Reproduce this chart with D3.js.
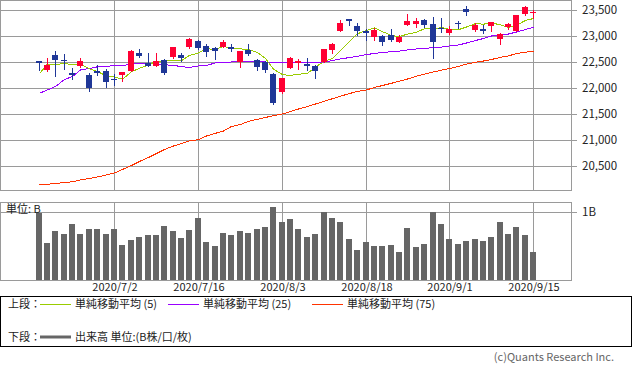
<!DOCTYPE html>
<html lang="ja">
	<head>
		<meta charset="utf-8">
		<title>Candlestick chart with moving averages and volume</title>
		<script type="text/javascript" src="https://cdnjs.cloudflare.com/ajax/libs/d3/7.8.5/d3.min.js"></script>
		<style type="text/css">
			body { margin: 0; background: #fff; }
			svg text { font-family: "Noto Sans CJK JP", "DejaVu Sans", sans-serif; }
		</style>
	</head>
	<body>
		<script type="text/javascript">

			//Trading days shown (2020/6/19 - 2020/9/15)
			var dates = ["6/19","6/22","6/23","6/24","6/25","6/26","6/29","6/30","7/1","7/2",
						 "7/3","7/6","7/7","7/8","7/9","7/10","7/13","7/14","7/15","7/16",
						 "7/17","7/20","7/21","7/22","7/27","7/28","7/29","7/30","7/31","8/3",
						 "8/4","8/5","8/6","8/7","8/11","8/12","8/13","8/14","8/17","8/18",
						 "8/19","8/20","8/21","8/24","8/25","8/26","8/27","8/28","8/31","9/1",
						 "9/2","9/3","9/4","9/7","9/8","9/9","9/10","9/11","9/14","9/15"];

			var open  = [22520,22335,22640,22545,22300,22410,22250,22335,22330,22170,
						 22250,22320,22670,22490,22430,22540,22585,22640,22790,22905,
						 22810,22770,22790,22790,22500,22735,22540,22500,22270,21925,
						 22380,22477,22463,22425,22500,22733,23098,23329,23194,23098,
						 22983,23002,23021,22887,23213,23233,23310,23233,23156,23060,
						 23256,23520,23117,23137,23194,22944,23175,23098,23425,23440];
			var high  = [22525,22575,22710,22655,22390,22580,22300,22445,22370,22265,
						 22310,22735,22745,22670,22670,22560,22790,22675,22960,22925,
						 22850,22790,22925,22850,22716,22850,22560,22520,22290,22195,
						 22600,22560,22580,22445,22752,22867,23310,23330,23252,23137,
						 23156,23021,23137,23021,23425,23348,23329,23367,23348,23194,
						 23290,23580,23252,23214,23280,23060,23252,23406,23580,23500];
			var low   = [22350,22330,22240,22360,22170,22400,21945,22250,22030,22065,
						 22140,22320,22600,22430,22430,22270,22585,22520,22770,22750,
						 22615,22560,22790,22710,22405,22630,22350,22310,21690,21910,
						 22380,22367,22348,22195,22500,22675,23098,23214,23021,22925,
						 22925,22829,22906,22887,23213,23175,23175,22579,23079,23040,
						 23156,23406,23098,23060,23098,22848,23137,23098,23406,23348];
			var close = [22479,22437,22549,22534,22260,22512,21995,22288,22122,22146,
						 22306,22714,22615,22439,22529,22291,22785,22587,22946,22770,
						 22696,22717,22884,22752,22716,22657,22397,22339,21710,22195,
						 22574,22515,22418,22330,22750,22844,23250,23289,23097,23051,
						 23111,22881,22920,22986,23297,23291,23209,22883,23140,23138,
						 23247,23466,23205,23090,23274,23033,23235,23406,23559,23455];

			//Volume in billions of shares
			var volume = [0.985,0.546,0.717,0.673,0.820,0.673,0.747,0.747,0.673,0.747,
						  0.512,0.586,0.630,0.659,0.659,0.790,0.717,0.615,0.732,0.908,
						  0.556,0.498,0.688,0.659,0.717,0.688,0.747,0.776,1.073,0.849,
						  0.893,0.747,0.630,0.673,1.000,0.908,0.849,0.600,0.439,0.556,
						  0.498,0.498,0.512,0.410,0.761,0.483,0.527,1.000,0.824,0.600,
						  0.527,0.571,0.600,0.571,0.630,0.849,0.673,0.776,0.659,0.410];

			//Simple moving averages
			var ma5  = [22281,22462,22455,22471,22452,22458,22370,22318,22235,22213,
						22171,22315,22381,22444,22521,22518,22532,22526,22628,22676,
						22757,22743,22803,22764,22753,22745,22681,22572,22364,22260,
						22243,22267,22282,22406,22517,22571,22718,22893,23046,23106,
						23160,23086,23012,22990,23039,23075,23141,23133,23164,23132,
						23123,23175,23239,23229,23256,23214,23167,23208,23301,23338];
			var ma25 = [21900,21964,22031,22165,22223,22348,22377,22410,22421,22431,
						22435,22458,22473,22483,22458,22450,22435,22415,22396,22425,
						22438,22483,22496,22502,22508,22508,22508,22502,22496,22483,
						22483,22483,22483,22492,22502,22531,22560,22588,22612,22646,
						22665,22685,22700,22713,22733,22752,22765,22777,22790,22810,
						22829,22867,22915,22954,23002,23021,23040,23079,23127,23169];
			var ma75 = [20137,20150,20166,20183,20198,20233,20262,20291,20329,20368,
						20435,20512,20589,20666,20742,20819,20887,20935,20983,21008,
						21079,21131,21175,21262,21300,21362,21400,21435,21470,21502,
						21550,21598,21646,21694,21748,21796,21844,21896,21935,21964,
						22012,22050,22093,22133,22175,22229,22267,22310,22344,22377,
						22415,22463,22496,22521,22550,22592,22619,22665,22690,22713];

			//Tick labels
			var priceTicks = [20500, 21000, 21500, 22000, 22500, 23000, 23500];
			var dateTicks = ["7/2", "7/16", "8/3", "8/18", "9/1", "9/15"];
			var volumeTicks = [1];

			//Legend entries
			var legendMA = [
				{ label: "単純移動平均 (5)", color: "#99cc00" },
				{ label: "単純移動平均 (25)", color: "#9900ff" },
				{ label: "単純移動平均 (75)", color: "#ff3300" }
			];

			//Layout
			var w = 633;
			var h = 374;
			var plotRight = 571;
			var mainTop = 0, mainBottom = 190;
			var volTop = 202, volBottom = 280;
			var bodyW = 6;
			var gridColor = "#9a9a9a";
			var upColor = "#ff0033";
			var downColor = "#1f3797";

			var svg = d3.select("body")
						.append("svg")
						.attr("width", w)
						.attr("height", h);

			//Scales
			var xScale = d3.scaleLinear()
							.domain([-4.6, 63.5])
							.range([0, plotRight]);

			var yScale = d3.scaleLinear()
							.domain([20500, 23500])
							.range([166.1, 10.1]);

			var vScale = d3.scaleLinear()
							.domain([0, 1])
							.range([volBottom, 211.7]);

			var cx = function(i) {
				return Math.round(xScale(i));
			};

			//Horizontal price gridlines and ticks
			svg.selectAll("line.pgrid")
			   .data(priceTicks)
			   .enter()
			   .append("line")
			   .attr("class", "pgrid")
			   .attr("x1", 0)
			   .attr("x2", plotRight + 6)
			   .attr("y1", function(d) { return Math.round(yScale(d)) + 0.5; })
			   .attr("y2", function(d) { return Math.round(yScale(d)) + 0.5; })
			   .attr("stroke", gridColor);

			svg.selectAll("text.plabel")
			   .data(priceTicks)
			   .enter()
			   .append("text")
			   .attr("class", "plabel")
			   .text(d3.format(","))
			   .attr("x", 582)
			   .attr("y", function(d) { return yScale(d) + 4; })
			   .attr("font-size", "11.5px")
			   .attr("fill", "#222");

			//Volume gridline
			svg.selectAll("line.vgrid")
			   .data(volumeTicks)
			   .enter()
			   .append("line")
			   .attr("class", "vgrid")
			   .attr("x1", 0)
			   .attr("x2", plotRight + 6)
			   .attr("y1", function(d) { return Math.round(vScale(d)) + 0.5; })
			   .attr("y2", function(d) { return Math.round(vScale(d)) + 0.5; })
			   .attr("stroke", gridColor);

			svg.selectAll("text.vlabel")
			   .data(volumeTicks)
			   .enter()
			   .append("text")
			   .attr("class", "vlabel")
			   .text(function(d) { return d + "B"; })
			   .attr("x", 582)
			   .attr("y", function(d) { return vScale(d) + 4; })
			   .attr("font-size", "11.5px")
			   .attr("fill", "#222");

			//Vertical date gridlines in both panels
			var tickIdx = dateTicks.map(function(d) { return dates.indexOf(d); });
			[[mainTop, mainBottom], [volTop, volBottom]].forEach(function(p) {
				svg.append("g")
				   .selectAll("line")
				   .data(tickIdx)
				   .enter()
				   .append("line")
				   .attr("x1", function(i) { return cx(i) + 0.5; })
				   .attr("x2", function(i) { return cx(i) + 0.5; })
				   .attr("y1", p[0])
				   .attr("y2", p[1])
				   .attr("stroke", gridColor);
			});

			//Date labels
			svg.selectAll("text.dlabel")
			   .data(dateTicks)
			   .enter()
			   .append("text")
			   .attr("class", "dlabel")
			   .text(function(d) { return "2020/" + d; })
			   .attr("text-anchor", "middle")
			   .attr("x", function(d) { return cx(dates.indexOf(d)) + 1; })
			   .attr("y", 291)
			   .attr("font-size", "11px")
			   .attr("fill", "#222");

			//Volume bars
			svg.selectAll("rect.vol")
			   .data(volume)
			   .enter()
			   .append("rect")
			   .attr("class", "vol")
			   .attr("x", function(d, i) { return cx(i) - bodyW / 2; })
			   .attr("y", function(d) { return Math.round(vScale(d)); })
			   .attr("width", bodyW)
			   .attr("height", function(d) { return volBottom - Math.round(vScale(d)); })
			   .attr("fill", "#666");

			//Moving average lines
			var maLine = function(arr) {
				return d3.line()
						 .x(function(d, i) { return cx(i) + 0.5; })
						 .y(function(d) { return yScale(d); })(arr);
			};
			[ma75, ma25, ma5].forEach(function(arr, k) {
				svg.append("path")
				   .attr("d", maLine(arr))
				   .attr("fill", "none")
				   .attr("stroke", legendMA[2 - k].color)
				   .attr("stroke-width", 1)
				   .attr("shape-rendering", "crispEdges");
			});

			//Candles
			var candles = d3.range(dates.length);

			svg.selectAll("line.wick")
			   .data(candles)
			   .enter()
			   .append("line")
			   .attr("class", "wick")
			   .attr("x1", function(i) { return cx(i) + 0.5; })
			   .attr("x2", function(i) { return cx(i) + 0.5; })
			   .attr("y1", function(i) { return Math.round(yScale(high[i])); })
			   .attr("y2", function(i) { return Math.round(yScale(low[i])) + 1; })
			   .attr("stroke", function(i) { return close[i] >= open[i] ? upColor : downColor; });

			svg.selectAll("rect.body")
			   .data(candles)
			   .enter()
			   .append("rect")
			   .attr("class", "body")
			   .attr("x", function(i) { return cx(i) - bodyW / 2; })
			   .attr("width", bodyW)
			   .attr("y", function(i) { return Math.round(yScale(Math.max(open[i], close[i]))); })
			   .attr("height", function(i) {
					return Math.max(1, Math.round(Math.abs(yScale(open[i]) - yScale(close[i]))));
			   })
			   .attr("fill", function(i) { return close[i] >= open[i] ? upColor : downColor; });

			//Panel frames
			svg.append("rect")
			   .attr("x", 0.5).attr("y", mainTop + 0.5)
			   .attr("width", plotRight).attr("height", mainBottom - mainTop)
			   .attr("fill", "none").attr("stroke", gridColor);
			svg.append("rect")
			   .attr("x", 0.5).attr("y", volTop + 0.5)
			   .attr("width", plotRight).attr("height", volBottom - volTop)
			   .attr("fill", "none").attr("stroke", gridColor);

			svg.append("text")
			   .text("単位: B")
			   .attr("x", 6)
			   .attr("y", 213)
			   .attr("font-size", "11px")
			   .attr("fill", "#222");

			//Legend box
			svg.append("rect")
			   .attr("x", 0.5).attr("y", 296.5)
			   .attr("width", 631).attr("height", 50)
			   .attr("fill", "none").attr("stroke", "#000");

			svg.append("text").text("上段：")
			   .attr("x", 8).attr("y", 308)
			   .attr("font-size", "11px").attr("fill", "#222");

			var legendX = [40, 168, 312];
			legendMA.forEach(function(d, k) {
				svg.append("line")
				   .attr("x1", legendX[k]).attr("x2", legendX[k] + 31)
				   .attr("y1", 304.5).attr("y2", 304.5)
				   .attr("stroke", d.color);
				svg.append("text").text(d.label)
				   .attr("x", legendX[k] + 35).attr("y", 308)
				   .attr("font-size", "11px").attr("fill", "#222");
			});

			svg.append("text").text("下段：")
			   .attr("x", 8).attr("y", 341)
			   .attr("font-size", "11px").attr("fill", "#222");
			svg.append("line")
			   .attr("x1", 40).attr("x2", 71)
			   .attr("y1", 337).attr("y2", 337)
			   .attr("stroke", "#666").attr("stroke-width", 3);
			svg.append("text").text("出来高 単位:(B株/口/枚)")
			   .attr("x", 75).attr("y", 341)
			   .attr("font-size", "11px").attr("fill", "#222");

			//Copyright
			svg.append("text").text("(c)Quants Research Inc.")
			   .attr("text-anchor", "end")
			   .attr("x", 614).attr("y", 361)
			   .attr("font-size", "11px").attr("fill", "#666");

		</script>
	</body>
</html>
